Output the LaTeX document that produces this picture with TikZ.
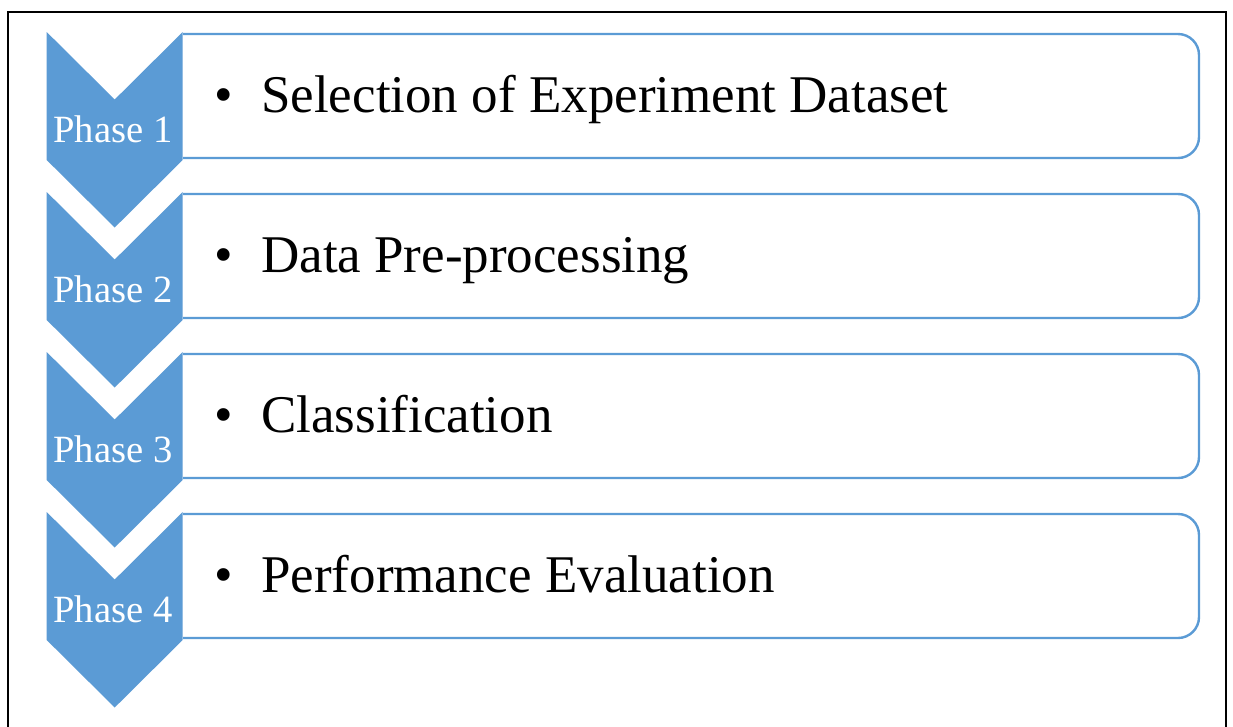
\documentclass[tikz,border=0pt]{standalone}
\usepackage{fontspec}
\setmainfont{Liberation Serif}
\definecolor{phaseblue}{HTML}{5B9BD5}
\tikzset{
  chevron/.style={fill=phaseblue, draw=none},
  itembox/.style={draw=phaseblue, line width=2.4, rounded corners=21},
  phaselabel/.style={text=white, anchor=base, inner sep=0pt, font=\fontsize{38.6}{44}\selectfont},
  itemlabel/.style={anchor=base west, inner sep=0pt, font=\fontsize{53}{60}\selectfont},
  bulletmark/.style={anchor=base, inner sep=0pt, font=\fontsize{53}{60}\selectfont},
  frameline/.style={draw=black, line width=2}
}
\begin{document}
\begin{tikzpicture}[x=1pt, y=-1pt]
\useasboundingbox (0,0) rectangle (1233,726);
\clip (0,0) rectangle (1233,726);
\fill[white] (0,0) rectangle (1233,726);
% outer frame (continues below the page)
\draw[frameline] (7.5,760) -- (7.5,12) -- (1226,12) -- (1226,760);
% four phases, 160 units apart
\foreach \k/\phase/\item in {0/Phase 1/Selection of Experiment Dataset,
                              1/Phase 2/Data Pre-processing,
                              2/Phase 3/Classification,
                              3/Phase 4/Performance Evaluation}{
  \pgfmathsetmacro{\dy}{160*\k}
  \begin{scope}[yshift={-\dy pt}]
    % rounded item box (square on the chevron side)
    \draw[itembox] (183,34) -- (1199,34) -- (1199,158) -- (183,158);
    % chevron pointing down
    \fill[chevron] (46.7,32) -- (114.7,99.5) -- (182.7,32) -- (182.7,160)
                   -- (114.7,227.5) -- (46.7,160) -- cycle;
    \node[phaselabel] (phase\k) at (113,142) {\phase};
    \node[bulletmark] (bullet\k) at (224,112) {•};
    \node[itemlabel] (item\k) at (261,112) {\item};
  \end{scope}
}
\end{tikzpicture}
\end{document}
